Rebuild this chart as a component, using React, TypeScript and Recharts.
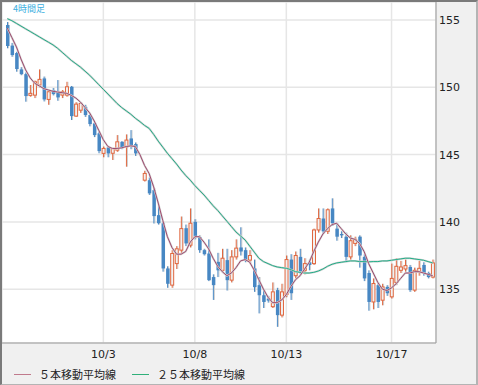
import { ComposedChart, Bar, Line, XAxis, YAxis, CartesianGrid } from 'recharts';

// 4時間足 OHLC (null = no candle drawn)
const opens = [
  154.63, 153.1, 152.55, 151.33, 150.98, 149.4, 149.42, 150.17, 150.66, 149.1,
  149.8, 149.67, 149.42, 149.42, 150.04, 147.86, 148.3, 148.55, 147.94, 147.32,
  146.58, 145.09, 145.53, 145.1, 145.33, 145.95, 145.58, 146.2, 145.78, null,
  143.1, 143.1, 142.36, 140.5, 139.9, 136.54, 135.3, 136.9, 137.9, 139.53,
  138.27, 140.0, 138.87, 137.9, 137.65, 135.9, 137.03, 136.4, 137.16, 135.67,
  137.4, 138.1, 137.9, 137.16, 136.54, 135.3, 134.55, 134.3, 133.7, 134.93,
  133.07, 134.6, 137.2, 136.0, 137.4, 136.4, 137.0, 136.9, 139.4, 140.25,
  139.3, 141.0, 139.5, 139.1, 138.9, 137.4, 138.4, 138.9, 137.4, 136.2,
  134.05, 135.3, 134.18, 135.17, 134.43, 135.5, 136.4, 136.5, 136.65, 134.93,
  136.3, 136.8, 136.2, 135.9,
];
const highs = [
  154.85, 153.3, 152.64, 151.5, 151.1, 150.17, 150.5, 151.33, 150.8, 149.8,
  149.95, 150.54, 149.8, 150.41, 150.1, 148.9, 148.9, 148.7, 148.0, 147.4,
  146.7, 145.6, 145.65, 145.5, 146.45, 146.0, 146.5, 146.82, 145.9, null,
  143.8, 143.3, 142.5, 141.2, 140.0, 136.7, 137.9, 138.2, 140.4, 139.8,
  141.0, 140.2, 139.0, 138.0, 138.7, 136.1, 137.7, 138.0, 138.0, 137.9,
  138.7, 139.6, 138.1, 137.9, 137.2, 135.9, 135.0, 134.5, 135.5, 135.1,
  135.4, 137.5, 137.6, 137.8, 138.0, 137.3, 137.2, 139.5, 141.0, 141.0,
  141.0, 141.75, 139.9, 139.3, 139.2, 139.0, 138.9, 139.0, 137.6, 136.4,
  135.8, 135.5, 135.4, 135.3, 136.9, 137.3, 137.1, 137.2, 136.8, 136.6,
  137.1, 137.0, 136.3, 137.2,
];
const lows = [
  152.9, 152.27, 151.16, 150.9, 148.93, 149.3, 149.2, 150.0, 148.95, 148.7,
  149.4, 149.0, 149.2, 149.3, 147.57, 147.8, 148.1, 147.8, 147.1, 146.3,
  145.1, 144.8, 144.8, 144.6, 145.2, 145.4, 144.1, 145.4, 144.9, null,
  143.0, 142.0, 139.88, 139.8, 136.3, 135.1, 135.1, 136.5, 137.7, 138.2,
  138.1, 138.7, 137.7, 137.5, 135.6, 134.2, 135.9, 136.3, 134.9, 135.5,
  137.2, 137.5, 137.0, 136.9, 134.8, 133.2, 133.6, 134.0, 133.6, 132.2,
  132.9, 134.4, 134.2, 135.8, 136.1, 136.1, 136.4, 136.8, 139.2, 139.1,
  139.1, 139.7, 138.6, 138.8, 137.0, 137.2, 138.2, 136.6, 135.6, 133.4,
  133.5, 133.6, 133.8, 134.5, 134.3, 135.3, 136.2, 136.3, 134.8, 134.8,
  136.0, 136.0, 135.8, 135.8,
];
const closes = [
  153.07, 152.4, 151.36, 150.98, 149.35, 149.55, 150.41, 150.59, 149.1, 149.67,
  149.5, 149.25, 149.67, 150.04, 147.86, 148.75, 148.8, 147.94, 147.27, 146.45,
  145.26, 145.46, 145.09, 145.46, 145.95, 145.53, 146.08, 145.58, 145.09, null,
  143.6, 142.12, 140.43, 139.9, 136.54, 135.4, 137.65, 138.0, 139.5, 138.4,
  139.9, 138.9, 137.9, 137.6, 135.67, 135.3, 136.4, 137.3, 135.67, 137.4,
  138.05, 137.8, 137.16, 137.5, 135.15, 134.55, 134.05, 134.15, 134.8, 133.07,
  134.8, 137.2, 134.7, 137.5, 136.3, 136.9, 136.8, 139.4, 140.25, 139.3,
  140.9, 139.9, 138.9, 139.0, 137.4, 138.6, 138.7, 137.5, 135.8, 134.05,
  135.42, 134.05, 135.17, 134.7, 135.8, 136.7, 136.65, 136.75, 134.93, 136.4,
  136.55, 136.2, 135.9, 136.95,
];
// 5本移動平均線
const ma5 = [
  154.4, 153.7, 153.0, 152.1, 151.3, 150.7, 150.3, 150.1, 149.9, 149.8,
  149.7, 149.65, 149.6, 149.55, 149.4, 149.2, 148.9, 148.5, 148.1, 147.5,
  146.8, 146.1, 145.6, 145.45, 145.46, 145.5, 145.6, 145.65, 145.6, 145.0,
  144.2, 143.6, 142.6, 141.4, 140.1, 138.9, 138.1, 137.6, 137.6, 137.8,
  138.5, 138.9, 138.9, 138.5, 138.0, 137.3, 136.7, 136.3, 136.0, 136.2,
  136.6, 137.1, 137.2, 137.0, 136.4, 135.7, 135.0, 134.4, 134.0, 134.0,
  134.2, 134.6, 135.2, 135.7, 136.0, 136.5, 137.0, 137.8, 138.5, 139.1,
  139.5, 139.8, 139.9, 139.5, 139.1, 138.8, 138.7, 138.4, 137.8, 136.9,
  136.2, 135.5, 135.0, 134.9, 135.1, 135.4, 135.8, 136.2, 136.2, 136.3,
  136.3, 136.2, 136.1, 136.0,
];
// ２５本移動平均線
const ma25 = [
  155.1, 154.95, 154.75, 154.55, 154.35, 154.15, 153.95, 153.75, 153.55, 153.35,
  153.15, 152.9, 152.6, 152.3, 152.0, 151.75, 151.5, 151.2, 150.9, 150.55,
  150.2, 149.85, 149.5, 149.15, 148.8, 148.5, 148.25, 148.0, 147.7, 147.45,
  147.17, 146.95, 146.5, 146.0, 145.55, 145.1, 144.7, 144.3, 143.85, 143.45,
  143.1, 142.7, 142.35, 142.0, 141.6, 141.2, 140.85, 140.45, 140.05, 139.65,
  139.25, 138.95, 138.65, 138.2, 137.75, 137.3, 137.05, 136.9, 136.75, 136.65,
  136.6, 136.55, 136.45, 136.3, 136.25, 136.2, 136.2, 136.25, 136.35, 136.5,
  136.7, 136.85, 136.95, 137.0, 137.05, 137.1, 137.1, 137.05, 137.05, 137.03,
  137.05, 137.05, 137.1, 137.1, 137.15, 137.2, 137.25, 137.3, 137.3, 137.25,
  137.2, 137.15, 137.05, 136.95,
];

const tickIdx = [21, 41, 61, 84];
const tickLabels = ['10/3', '10/8', '10/13', '10/17'];
const priceTicks = [135, 140, 145, 150, 155];

const UP = '#e0673f';
const DOWN = '#4787c3';

const data = opens.map((o, i) => ({
  i,
  open: o,
  high: highs[i],
  low: lows[i],
  close: closes[i],
  range: o == null ? null : [lows[i], highs[i]],
  ma5: ma5[i],
  ma25: ma25[i],
}));

function Candle(props: any) {
  const { x, y, width, height, payload } = props;
  if (!payload || payload.open == null || !height) return null;
  const { open, close, high, low } = payload;
  const up = close >= open;
  const k = height / (high - low);
  const yOf = (v: number) => y + (high - v) * k;
  const cx = x + width / 2;
  const top = yOf(Math.max(open, close));
  const bot = yOf(Math.min(open, close));
  const color = up ? UP : DOWN;
  return (
    <g>
      <line x1={cx + 1} x2={cx + 1} y1={y} y2={y + height} stroke="#cccccc" strokeWidth={1} />
      <line x1={cx} x2={cx} y1={y} y2={y + height} stroke={color} strokeWidth={1} />
      {up ? (
        <rect x={cx - 1.5} y={top} width={3} height={Math.max(bot - top, 1)} fill="#f2f2f2" stroke={color} strokeWidth={1} />
      ) : (
        <rect x={cx - 1.5} y={top} width={3.5} height={Math.max(bot - top, 1)} fill={color} />
      )}
    </g>
  );
}

export default function App() {
  const font = '"DejaVu Sans", Verdana, sans-serif';
  return (
    <div
      style={{
        position: 'fixed',
        left: 0,
        top: 0,
        width: 478,
        height: 385,
        boxSizing: 'border-box',
        background: '#f0f0f0',
        borderTop: '2px solid #7a7a7a',
        borderLeft: '2px solid #7a7a7a',
        borderRight: '2px solid #b4b4b4',
        borderBottom: '1px solid #b4b4b4',
        fontFamily: font,
      }}
    >
      <ComposedChart width={474} height={382} data={data} margin={{ top: 0, right: 0, bottom: 0, left: 0 }}>
        <CartesianGrid stroke="#e6e6e6" strokeWidth={1.5} fill="#ffffff" />
        <XAxis
          dataKey="i"
          type="category"
          ticks={tickIdx}
          tickFormatter={(v: number) => tickLabels[tickIdx.indexOf(v)] ?? ''}
          interval={0}
          height={41}
          padding={{ left: 3, right: 1 }}
          tickLine={false}
          tickSize={0}
          tickMargin={7}
          axisLine={{ stroke: '#9a9a9a' }}
          tick={{ fill: '#222', fontSize: 11, fontFamily: font }}
        />
        <YAxis
          orientation="right"
          domain={[131, 156.34]}
          allowDataOverflow
          ticks={priceTicks}
          width={40}
          tickLine={false}
          tickSize={0}
          tickMargin={3}
          axisLine={{ stroke: '#9a9a9a' }}
          tick={{ fill: '#222', fontSize: 11, fontFamily: font, textAnchor: 'start' }}
        />
        <Line dataKey="ma25" stroke="#d2d2d2" strokeWidth={2} dot={false} activeDot={false} isAnimationActive={false} />
        <Line dataKey="ma25" stroke="#22ae88" strokeWidth={1} dot={false} activeDot={false} isAnimationActive={false} />
        <Line dataKey="ma5" stroke="#d2d2d2" strokeWidth={2} dot={false} activeDot={false} isAnimationActive={false} />
        <Line dataKey="ma5" stroke="#a04a6e" strokeWidth={1} dot={false} activeDot={false} isAnimationActive={false} />
        <Bar dataKey="range" barSize={3} shape={Candle} isAnimationActive={false} />
      </ComposedChart>

      <div style={{ position: 'absolute', left: 11, top: 0, fontSize: 9, lineHeight: '13px', color: '#3aaee0', fontFamily: '"Noto Sans CJK JP", sans-serif' }}>
        4時間足
      </div>

      <div
        style={{
          position: 'absolute',
          left: 12,
          top: 364,
          display: 'flex',
          alignItems: 'center',
          fontSize: 11,
          color: '#222',
          fontFamily: '"Noto Sans CJK JP", sans-serif',
          lineHeight: '16px',
        }}
      >
        <span style={{ width: 17, height: 1, background: '#c07a8c', display: 'inline-block' }} />
        <span style={{ marginLeft: 8 }}>５本移動平均線</span>
        <span style={{ width: 17, height: 1, background: '#2fb07a', display: 'inline-block', marginLeft: 16 }} />
        <span style={{ marginLeft: 8 }}>２５本移動平均線</span>
      </div>
    </div>
  );
}
